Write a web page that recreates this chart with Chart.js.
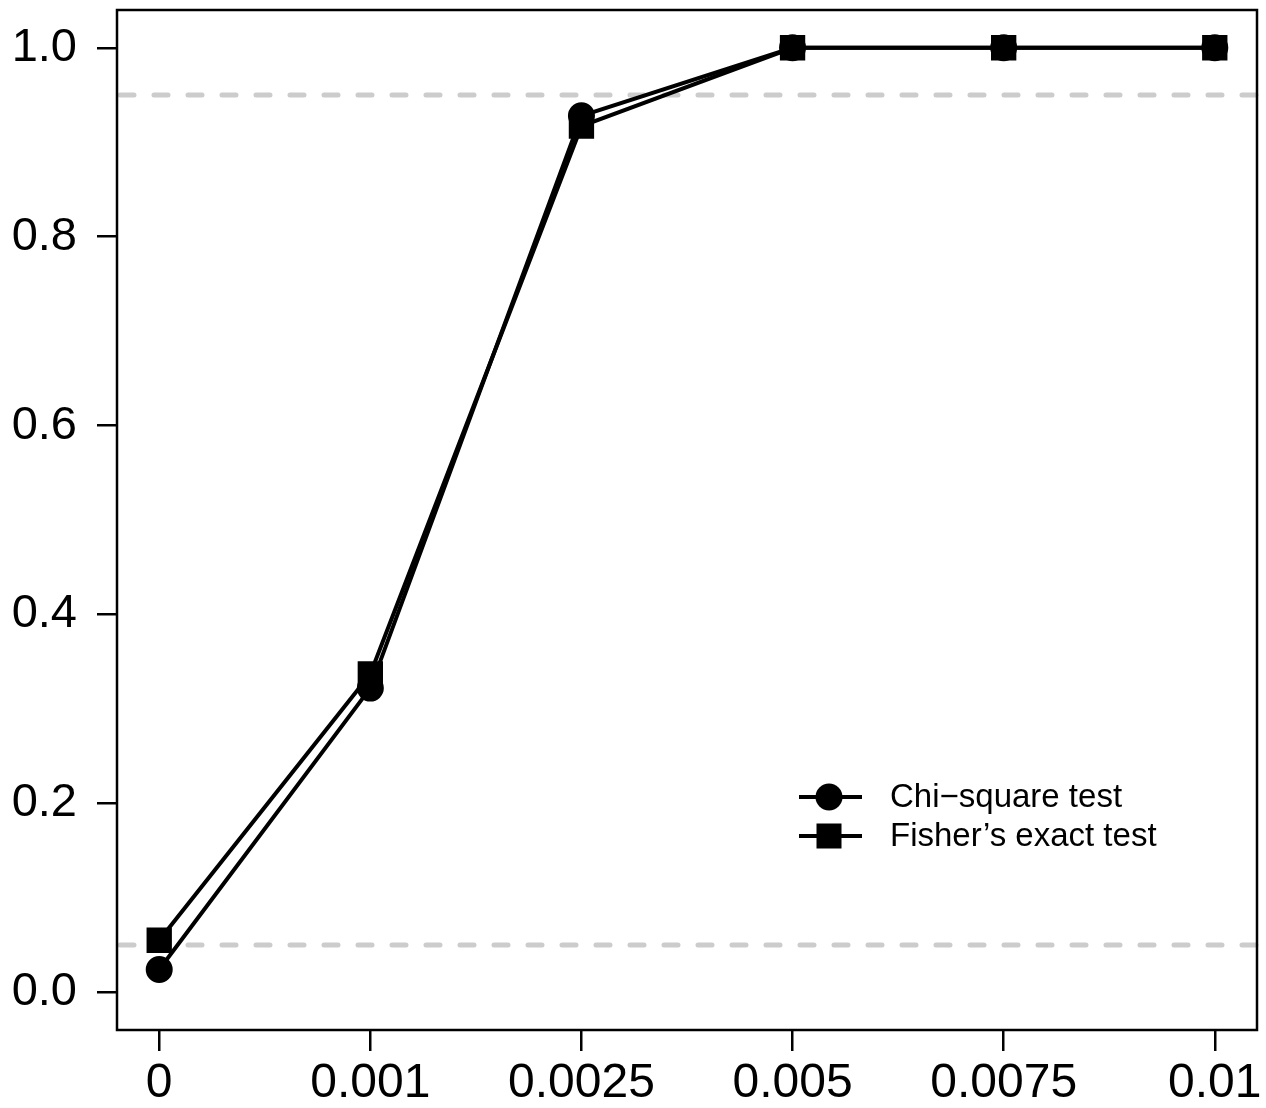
<!DOCTYPE html>
<html>
<head>
<meta charset="utf-8">
<script src="https://cdn.jsdelivr.net/npm/chart.js@4.4.1/dist/chart.umd.min.js"></script>
<style>
  html, body { margin: 0; padding: 0; background: #fff; }
  canvas { display: block; }
</style>
</head>
<body>
<canvas id="powerChart" width="1266" height="1108"></canvas>
<script>
// effect sizes on the x axis (equally spaced positions 1..6)
const categories = ["0", "0.001", "0.0025", "0.005", "0.0075", "0.01"];
const chiSquare = [0.024, 0.322, 0.928, 1, 1, 1];
const fisherExact = [0.055, 0.337, 0.917, 1, 1, 1];
const yTicks = [0, 0.2, 0.4, 0.6, 0.8, 1.0];
const refLines = [0.05, 0.95];
const seriesNames = ["Chi\u2212square test", "Fisher\u2019s exact test"];

const FONT = "'Liberation Sans', Arial, Helvetica, sans-serif";
const xPos = categories.map((c, i) => i + 1);

function toPoints(vals) {
  return vals.map((v, i) => ({ x: xPos[i], y: v }));
}

function noPad(scale) {
  scale.paddingLeft = 0;
  scale.paddingRight = 0;
  scale.paddingTop = 0;
  scale.paddingBottom = 0;
}

// dashed grey reference lines + plot box
const boxPlugin = {
  id: 'boxPlugin',
  beforeDatasetsDraw(chart) {
    const { ctx, chartArea, scales } = chart;
    ctx.save();
    ctx.strokeStyle = '#cccccc';
    ctx.lineWidth = 5;
    ctx.lineCap = 'round';
    ctx.setLineDash([14, 20]);
    refLines.forEach(v => {
      const y = scales.y.getPixelForValue(v);
      ctx.beginPath();
      ctx.moveTo(chartArea.left + 3, y);
      ctx.lineTo(chartArea.right, y);
      ctx.stroke();
    });
    ctx.restore();
  },
  afterDraw(chart) {
    const { ctx, chartArea } = chart;
    ctx.save();
    ctx.strokeStyle = '#000';
    ctx.lineWidth = 2.5;
    ctx.strokeRect(chartArea.left, chartArea.top,
      chartArea.right - chartArea.left, chartArea.bottom - chartArea.top);

    // legend
    const rows = [797, 836];
    ctx.lineWidth = 4;
    ctx.fillStyle = '#000';
    rows.forEach((y, i) => {
      ctx.beginPath();
      ctx.moveTo(799, y);
      ctx.lineTo(862, y);
      ctx.stroke();
      if (i === 0) {
        ctx.beginPath();
        ctx.arc(829, y, 13.5, 0, Math.PI * 2);
        ctx.fill();
      } else {
        ctx.fillRect(829 - 12.5, y - 12.5, 25, 25);
      }
      ctx.font = '33px ' + FONT;
      ctx.textAlign = 'left';
      ctx.textBaseline = 'middle';
      ctx.fillText(seriesNames[i], 890, y + 1);
    });
    ctx.restore();
  }
};

const ctx = document.getElementById('powerChart').getContext('2d');

new Chart(ctx, {
  type: 'line',
  data: {
    datasets: [
      {
        label: seriesNames[0],
        data: toPoints(chiSquare),
        borderColor: '#000',
        backgroundColor: '#000',
        borderWidth: 4,
        pointStyle: 'circle',
        pointRadius: 12.5,
        pointBorderWidth: 2,
        pointBorderColor: '#000',
        pointBackgroundColor: '#000',
        tension: 0
      },
      {
        label: seriesNames[1],
        data: toPoints(fisherExact),
        borderColor: '#000',
        backgroundColor: '#000',
        borderWidth: 4,
        pointStyle: 'rect',
        pointRadius: 16.5,
        pointBorderWidth: 2,
        pointBorderColor: '#000',
        pointBackgroundColor: '#000',
        tension: 0
      }
    ]
  },
  options: {
    responsive: false,
    devicePixelRatio: 1,
    animation: false,
    layout: { autoPadding: false, padding: { top: 10, right: 9, left: 0, bottom: 0 } },
    plugins: {
      legend: { display: false },
      tooltip: { enabled: false }
    },
    scales: {
      x: {
        type: 'linear',
        min: 0.8,
        max: 6.2,
        afterBuildTicks: scale => { scale.ticks = xPos.map(v => ({ value: v })); },
        afterFit: scale => { scale.height = 78; noPad(scale); },
        grid: {
          drawOnChartArea: false,
          drawTicks: true,
          tickLength: 21,
          color: '#000',
          lineWidth: 2.5
        },
        border: { display: false },
        ticks: {
          padding: 4,
          color: '#000',
          maxRotation: 0,
          autoSkip: false,
          font: { family: FONT, size: 48 },
          callback: (v) => categories[Math.round(v) - 1]
        }
      },
      y: {
        type: 'linear',
        min: -0.04,
        max: 1.04,
        afterBuildTicks: scale => { scale.ticks = yTicks.map(v => ({ value: v })); },
        afterFit: scale => { scale.width = 117; noPad(scale); },
        grid: {
          drawOnChartArea: false,
          drawTicks: true,
          tickLength: 20,
          color: '#000',
          lineWidth: 2.5
        },
        border: { display: false },
        ticks: {
          padding: 20,
          color: '#000',
          font: { family: FONT, size: 47 },
          callback: (v) => v.toFixed(1)
        }
      }
    }
  },
  plugins: [boxPlugin]
});
</script>
</body>
</html>
